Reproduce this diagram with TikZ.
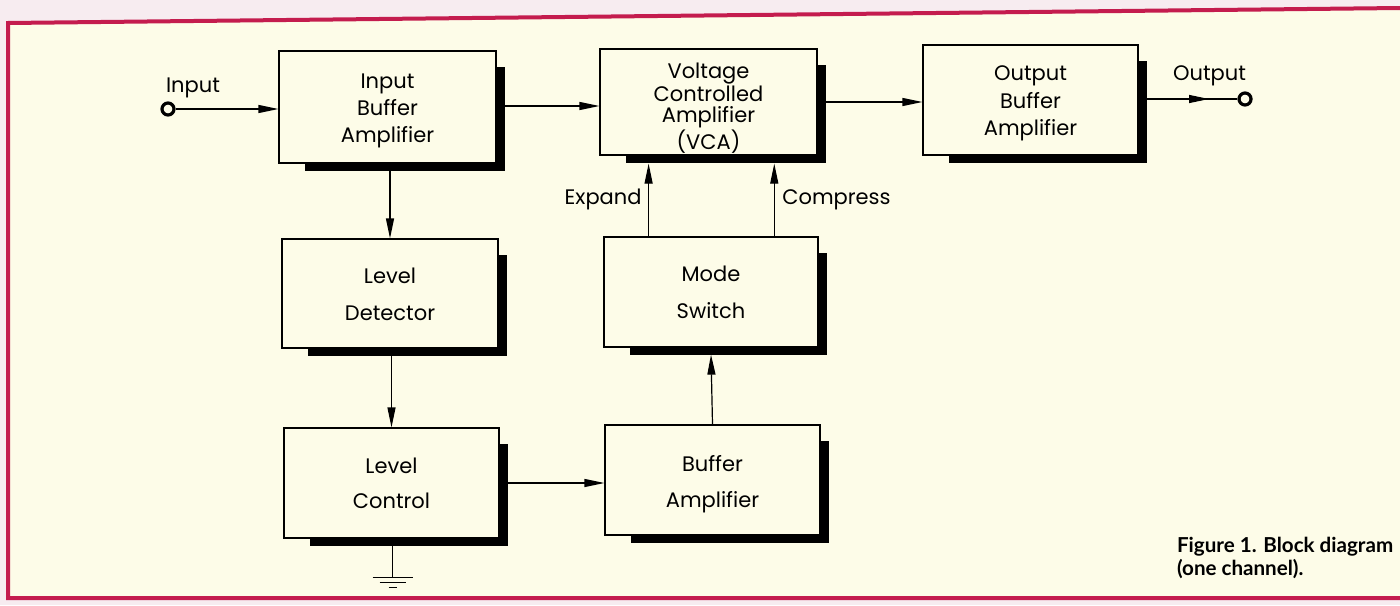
\documentclass[tikz,border=0pt]{standalone}
\usepackage{fontspec}
\setmainfont{Poppins}
\newfontfamily\capfont{Lato}
\usetikzlibrary{arrows.meta,calc}
\definecolor{cream}{RGB}{253,252,232}
\definecolor{crim}{RGB}{196,28,78}
\definecolor{pinkbg}{RGB}{247,236,240}
\pgfdeclarelayer{back}
\pgfdeclarelayer{shade}
\pgfsetlayers{back,shade,main}
\begin{document}
\begin{tikzpicture}[x=0.5pt,y=-0.5pt,
  box/.style={draw,fill=cream,line width=0.6pt,inner sep=0pt,minimum width=108pt,minimum height=55pt},
  txt/.style={align=center,inner sep=0pt},
  arr/.style={line width=0.6pt,-{Triangle[length=10pt,width=4pt]}},
  wire/.style={line width=0.6pt},
  term/.style={circle,draw,line width=1.6pt,inner sep=0pt,minimum size=6pt,fill=cream},
  lab/.style={font=\fontsize{10.5}{12}\selectfont}
]
\useasboundingbox (0,0) rectangle (1400,605);
% page background and frame
\begin{pgfonlayer}{back}
\fill[pinkbg] (0,0) rectangle (1400,605);
\fill[cream] (8,23) -- (1400,8) -- (1400,598) -- (8,598) -- cycle;
\draw[crim,line width=2pt] (1400,8) -- (8,23) -- (8,598) -- (1400,598);
\end{pgfonlayer}

% blocks
\node[box,minimum width=108.5pt,minimum height=56pt] (ib) at (387.5,107) {};
\node[box,minimum width=108.5pt,minimum height=53pt] (vca) at (708.5,102) {};
\node[box,minimum width=107.5pt,minimum height=55pt] (ob) at (1030.5,100) {};
\node[box,minimum width=108pt,minimum height=54.5pt] (ld) at (390,293.5) {};
\node[box,minimum width=107pt,minimum height=55pt] (ms) at (711,292) {};
\node[box,minimum width=107.5pt,minimum height=55pt] (lc) at (391.5,483) {};
\node[box,minimum width=107.5pt,minimum height=55pt] (ba) at (712.5,480) {};

% block texts
\node[txt,font=\fontsize{10.5}{13.5}\selectfont] (ibt) at ($(ib)+(0,4)$) {Input\\Buffer\\Amplifier};
\node[txt,font=\fontsize{10.5}{10.5}\selectfont] (vcat) at ($(vca)+(0,6.5)$) {Voltage\\Controlled\\Amplifier\\(VCA)};
\node[txt,font=\fontsize{10.5}{13.75}\selectfont] (obt) at ($(ob)+(0,3.5)$) {Output\\Buffer\\Amplifier};
\node[txt,font=\fontsize{10.5}{18.5}\selectfont] (ldt) at ($(ld)+(0,0.5)$) {Level\\Detector};
\node[txt,font=\fontsize{10.5}{18.5}\selectfont] (mst) at (ms) {Mode\\Switch};
\node[txt,font=\fontsize{10.5}{17.5}\selectfont] (lct) at (lc) {Level\\Control};
\node[txt,font=\fontsize{10.5}{18}\selectfont] (bat) at ($(ba)+(0,4.5)$) {Buffer\\Amplifier};

% shadows
\begin{pgfonlayer}{shade}
\foreach \n in {ib,vca,ob,ld,ms,lc,ba}
  \fill[black] ($(\n.north west)+(27,17)$) rectangle ($(\n.south east)+(8,7)$);
\end{pgfonlayer}

% terminals
\node[term] (inc) at (168,109) {};
\node[lab,anchor=base west] (inlab) at (159,92) {Input};
\node[term] (outc) at (1245,99) {};
\node[lab,anchor=base west] (outlab) at (1166,80) {Output};
\coordinate (omid) at (1209,99);

% signal path
\draw[arr] (inc.east) -- (ib.west |- inc.east);
\draw[arr] (ib.east |- 0,106) -- (vca.west |- 0,106);
\draw[arr] (vca.east) -- (ob.west |- vca.east);
\draw[wire] (ob.east |- omid) -- (outc.west);
\draw[arr] (ob.east |- omid) -- (omid);

% side chain
\draw[arr] (ib.south -| ld.north) -- (ld.north);
\draw[arr] (ld.south -| lc.north) -- (lc.north);
\draw[arr] (lc.east) -- (ba.west |- lc.east);
\draw[arr] (ba.north) -- ($(ms.south)+(0,7)$);
\coordinate (ex) at ($(ms.north west)!0.21!(ms.north east)$);
\coordinate (cp) at ($(ms.north west)!0.794!(ms.north east)$);
\draw[arr] (ex) -- ($(ex |- vca.south)+(0,8)$);
\draw[arr] (cp) -- ($(cp |- vca.south)+(0,8)$);
\node[lab,anchor=base east] (exl) at ($(ex)+(0,-32)$) {Expand};
\node[lab,anchor=base west] (cpl) at ($(cp)+(1,-32)$) {Compress};

% ground
\coordinate (gnd) at ($(lc.south)+(1,39)$);
\draw[wire] (lc.south -| gnd) -- (gnd);
\draw[wire] ($(gnd)+(-20,0)$) -- ($(gnd)+(20,0)$);
\draw[wire] ($(gnd)+(-13,5)$) -- ($(gnd)+(13,5)$);
\draw[wire] ($(gnd)+(-4,10)$) -- ($(gnd)+(4,10)$);

% caption
\node[anchor=base west,align=left,font=\capfont\bfseries\fontsize{10.3}{11.5}\selectfont] (cap) at (1170,575) {Figure 1. Block diagram\\(one channel).};
\end{tikzpicture}
\end{document}
